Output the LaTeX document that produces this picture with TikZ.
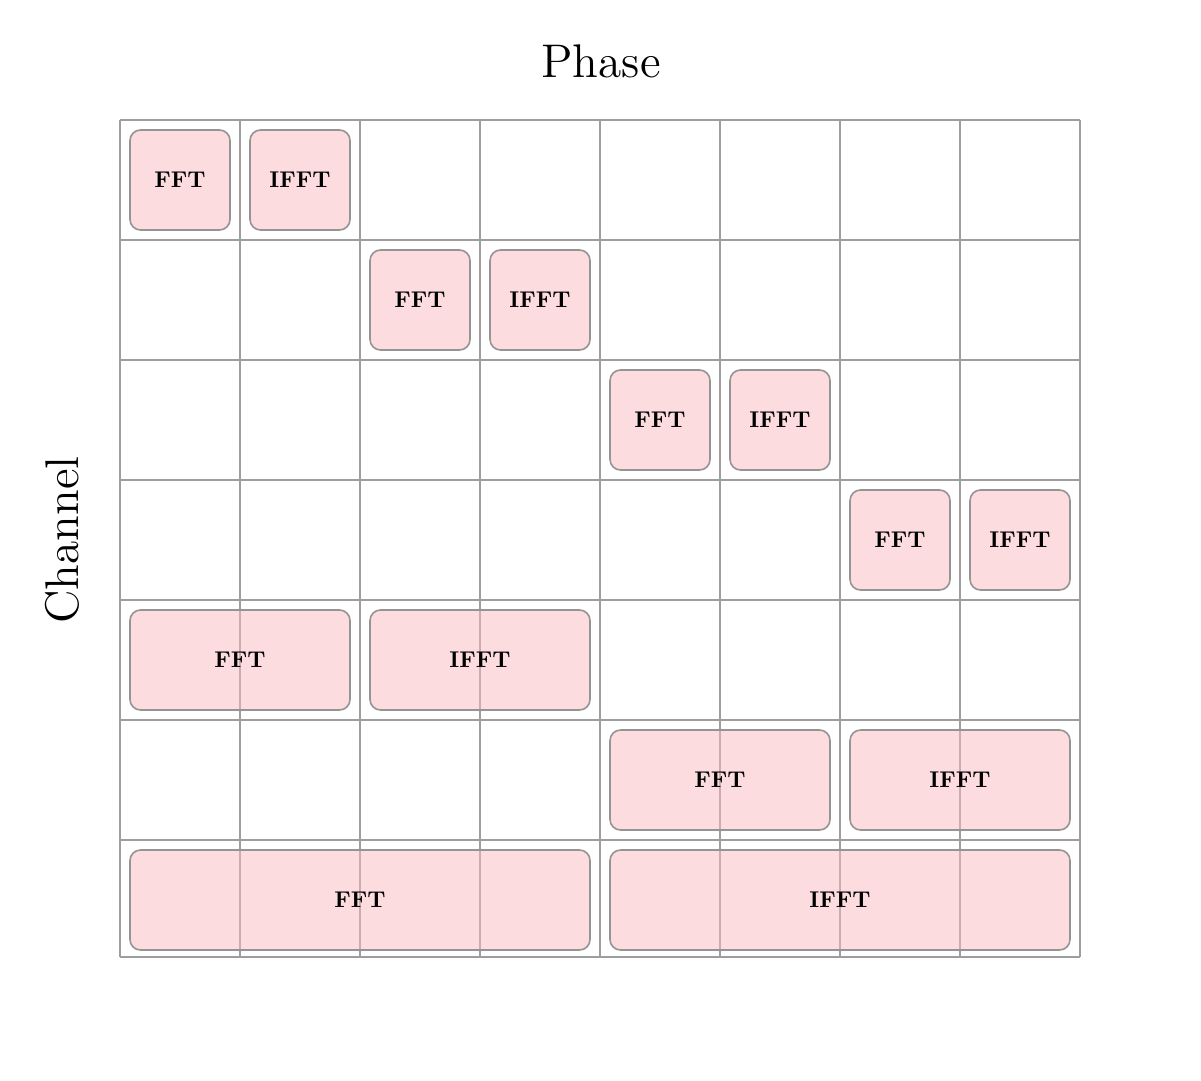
\documentclass[tikz,border=0pt]{standalone}
\newcommand{\boxtext}[1]{\scalebox{0.54}{\fontsize{10}{12}\selectfont\bfseries #1}}
\begin{document}
\begin{tikzpicture}[x=0.0833333mm, y=-0.0833333mm,
  gridline/.style={draw=black!38, line width=0.47pt},
  box/.style={draw=black!42, line width=0.38pt, rounded corners=2.5pt,
    fill={rgb,255:red,250;green,186;blue,192}, fill opacity=0.5, text opacity=1,
    minimum height=0.8333cm, inner sep=0pt},
  w1/.style={minimum width=0.8333cm},
  w2/.style={minimum width=1.8333cm},
  w4/.style={minimum width=3.8333cm},
  axislabel/.style={font=\fontsize{11.2}{13}\selectfont, inner sep=0pt, anchor=base}]
\useasboundingbox (0,0) rectangle (1201,1080);
% grid
\foreach \i in {0,...,8} { \draw[gridline] (120+120*\i,120) -- (120+120*\i,957); }
\foreach \j in {120,240,360,480,600,720,840,957} { \draw[gridline] (120,\j) -- (1080,\j); }
% labels
\node[axislabel] (phase) at (601,78) {Phase};
\node[axislabel, rotate=90] (channel) at (78,540) {Channel};
% row 0..3
\node[box,w1] (f0) at (180,180) {\boxtext{FFT}};
\node[box,w1] (i0) at (300,180) {\boxtext{IFFT}};
\node[box,w1] (f1) at (420,300) {\boxtext{FFT}};
\node[box,w1] (i1) at (540,300) {\boxtext{IFFT}};
\node[box,w1] (f2) at (660,420) {\boxtext{FFT}};
\node[box,w1] (i2) at (780,420) {\boxtext{IFFT}};
\node[box,w1] (f3) at (900,540) {\boxtext{FFT}};
\node[box,w1] (i3) at (1020,540) {\boxtext{IFFT}};
% row 4,5
\node[box,w2] (f4) at (240,660) {\boxtext{FFT}};
\node[box,w2] (i4) at (480,660) {\boxtext{IFFT}};
\node[box,w2] (f5) at (720,780) {\boxtext{FFT}};
\node[box,w2] (i5) at (960,780) {\boxtext{IFFT}};
% row 6
\node[box,w4] (f6) at (360,900) {\boxtext{FFT}};
\node[box,w4] (i6) at (840,900) {\boxtext{IFFT}};
\end{tikzpicture}
\end{document}
